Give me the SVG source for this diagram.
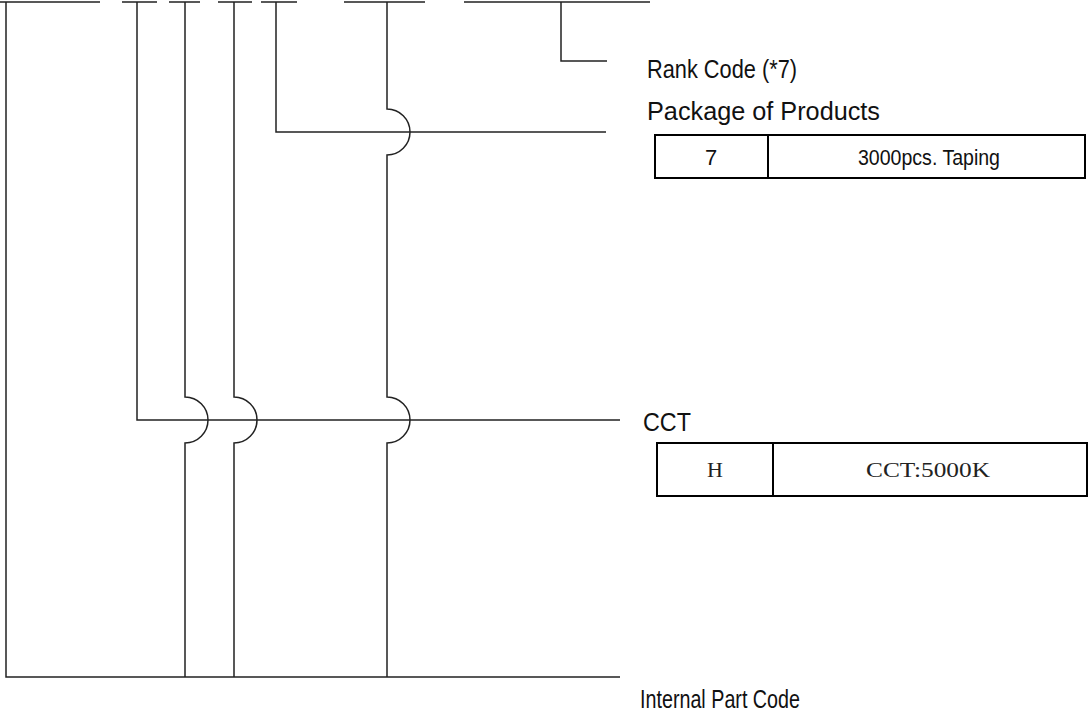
<svg xmlns="http://www.w3.org/2000/svg" width="1092" height="719" viewBox="0 0 1092 719">
<style>
.ln{fill:none;stroke:#222;stroke-width:1.5}
.bx{fill:#fff;stroke:#000;stroke-width:2}
.lbl{font-family:"Liberation Sans",Arial,sans-serif;font-size:25px;fill:#111}
.cs{font-family:"Liberation Sans",Arial,sans-serif;font-size:22px;fill:#111;text-anchor:middle}
.cf{font-family:"Liberation Serif","Times New Roman",serif;font-size:22px;fill:#222;text-anchor:middle}
</style>
<rect width="1092" height="719" fill="#fff"/>
<g id="connectors">
<path class="ln" d="M0 2H100M122 2H157M169 2H200M218 2H252M261 2H297M344 2H425M464 2H650"/>
<path class="ln" d="M6 2V677H620"/>
<path class="ln" d="M137 2V420H620"/>
<path class="ln" d="M185 2V397A23 23 0 0 1 185 443V677"/>
<path class="ln" d="M234 2V397A23 23 0 0 1 234 443V677"/>
<path class="ln" d="M387 2V109A23 23 0 0 1 387 155V397A23 23 0 0 1 387 443V677"/>
<path class="ln" d="M276 2V132H606"/>
<path class="ln" d="M561 2V61H607"/>
</g>
<g id="rank"><text class="lbl" x="647" y="78" textLength="150" lengthAdjust="spacingAndGlyphs">Rank Code (*7)</text></g>
<g id="package">
<text class="lbl" x="647" y="120" textLength="233" lengthAdjust="spacingAndGlyphs">Package of Products</text>
<rect class="bx" x="655" y="135" width="430" height="43"/>
<line class="bx" x1="768" y1="135" x2="768" y2="178"/>
<text class="cs" x="711" y="165">7</text>
<text class="cs" x="929" y="165" textLength="142" lengthAdjust="spacingAndGlyphs">3000pcs. Taping</text>
</g>
<g id="cct">
<text class="lbl" x="643" y="431" textLength="48" lengthAdjust="spacingAndGlyphs">CCT</text>
<rect class="bx" x="657" y="443" width="430" height="53"/>
<line class="bx" x1="773" y1="443" x2="773" y2="496"/>
<text class="cf" x="715" y="477">H</text>
<text class="cf" x="928" y="477" textLength="124" lengthAdjust="spacingAndGlyphs">CCT:5000K</text>
</g>
<g id="internal"><text class="lbl" x="640" y="708" textLength="160" lengthAdjust="spacingAndGlyphs">Internal Part Code</text></g>
</svg>
